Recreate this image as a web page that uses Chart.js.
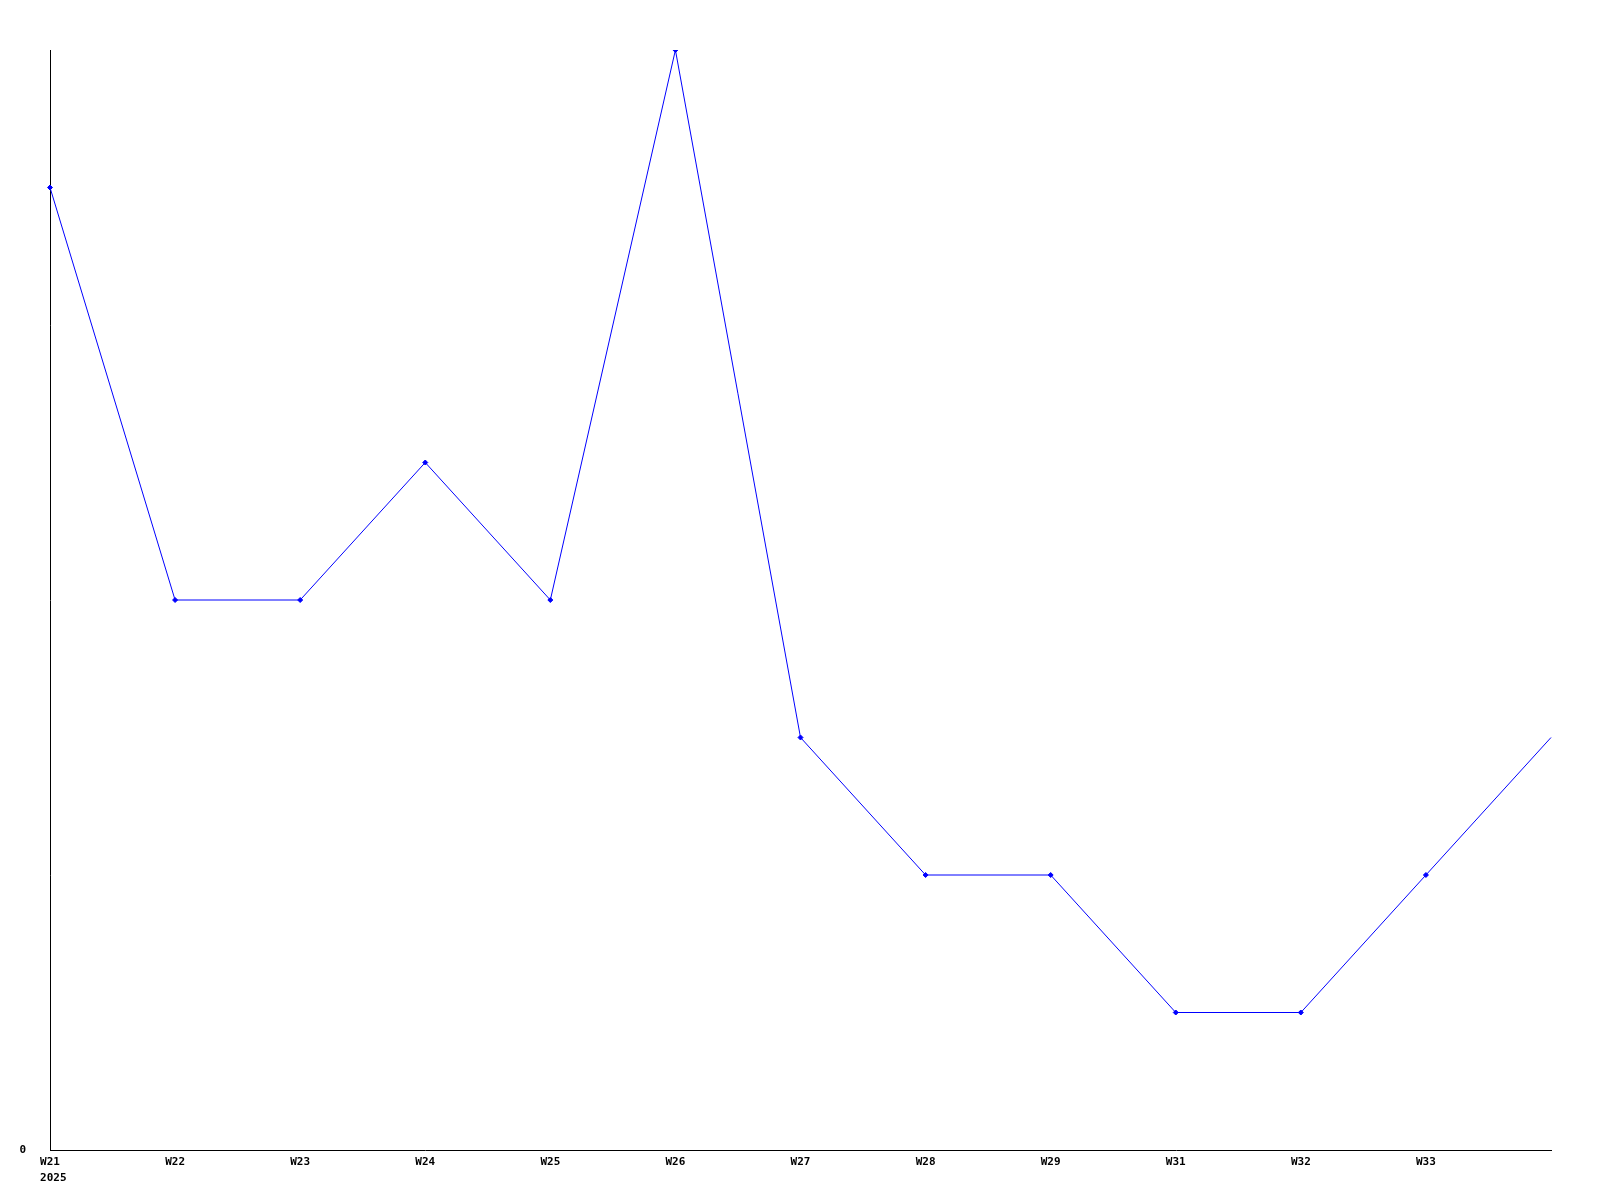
<!DOCTYPE html>
<html lang="en">
<head>
<meta charset="UTF-8">
<title>Weekly values</title>
<script src="https://cdn.jsdelivr.net/npm/chart.js"></script>
<style>
    body { margin: 0; padding: 0; background: #fff; }
    #wrap { width: 1600px; height: 1200px; }
</style>
</head>
<body>
<div id="wrap"><canvas id="myChart" width="1600" height="1200"></canvas></div>
<script>
    // week labels (no W30 in the source), last slot has no label
    var weeks = ['W21', 'W22', 'W23', 'W24', 'W25', 'W26', 'W27', 'W28', 'W29', 'W31', 'W32', 'W33', ''];
    var values = [7, 4, 4, 5, 4, 8, 3, 2, 2, 1, 1, 2, 3];
    var yearLabel = '2025';

    var tickFont = { family: 'DejaVu Sans Mono', size: 11, weight: 'bold' };

    // second line under the first week label, left aligned with it
    var yearPlugin = {
        id: 'yearPlugin',
        afterDraw: function(chart) {
            var ctx = chart.ctx;
            var xs = chart.scales.x;
            ctx.save();
            ctx.font = 'bold 11px "DejaVu Sans Mono"';
            var w = ctx.measureText(weeks[0]).width;
            ctx.fillStyle = '#000';
            ctx.textAlign = 'left';
            ctx.textBaseline = 'middle';
            ctx.fillText(yearLabel, xs.getPixelForTick(0) - w / 2, chart.chartArea.bottom + 28);
            ctx.restore();
        }
    };

    var ctx = document.getElementById('myChart').getContext('2d');
    var myChart = new Chart(ctx, {
        type: 'line',
        data: {
            labels: weeks,
            datasets: [{
                data: values,
                borderColor: '#0000ff',
                backgroundColor: '#0000ff',
                borderWidth: 1,
                // no marker on the unlabeled last slot
                pointRadius: function(c) { return c.dataIndex === values.length - 1 ? 0 : 2.5; },
                pointStyle: 'rectRot',
                pointBorderWidth: 1,
                tension: 0
            }]
        },
        options: {
            responsive: false,
            animation: false,
            layout: { padding: { top: 50, right: 49, left: 0, bottom: 0 } },
            scales: {
                x: {
                    offset: false,
                    grid: { display: false, drawTicks: false },
                    border: { color: '#000', width: 1 },
                    ticks: {
                        autoSkip: false,
                        maxRotation: 0,
                        padding: 6,
                        color: '#000',
                        font: tickFont
                    },
                    afterFit: function(scale) { scale.height = 50; }
                },
                y: {
                    min: 0,
                    max: 8,
                    grid: { display: false, drawTicks: false },
                    border: { color: '#000', width: 1 },
                    ticks: {
                        stepSize: 1,
                        padding: 24,
                        color: '#000',
                        font: tickFont,
                        callback: function(v) { return v === 0 ? '0' : ''; }
                    },
                    afterFit: function(scale) { scale.width = 50; }
                }
            },
            plugins: {
                legend: { display: false },
                tooltip: { enabled: false }
            }
        },
        plugins: [yearPlugin]
    });
</script>
</body>
</html>
